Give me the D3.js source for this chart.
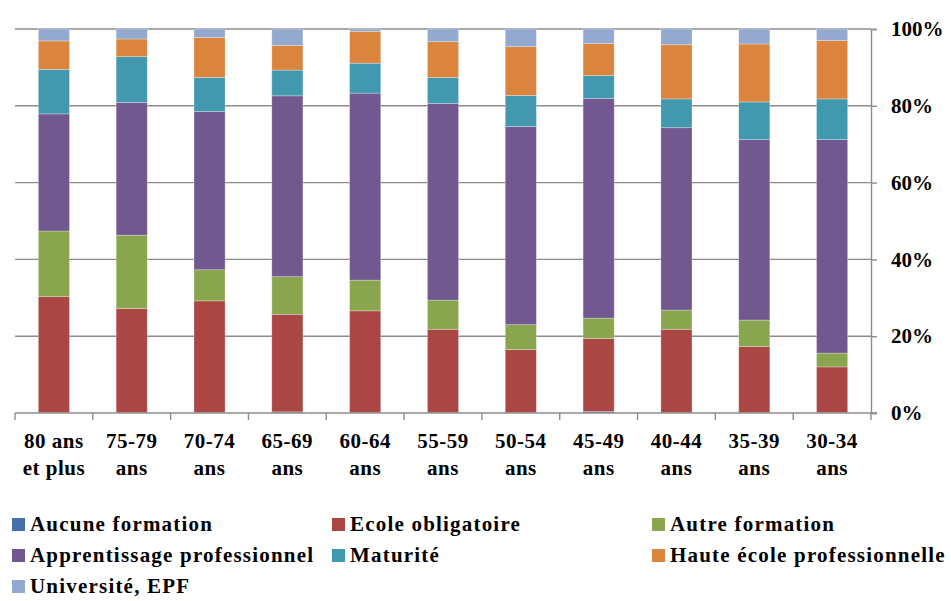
<!DOCTYPE html>
<html lang="fr">
<head>
<meta charset="utf-8">
<script src="https://cdn.jsdelivr.net/npm/d3@7"></script>
<style>
  html, body { margin: 0; padding: 0; background: #fff; }
  svg { display: block; }
  text { font-family: "Liberation Serif", "Times New Roman", serif; font-weight: bold; fill: #000; }
</style>
</head>
<body>
<svg id="chart" width="951" height="601"></svg>
<script>
// Age groups (each label is split over two lines)
const categories = [
  ["80 ans", "et plus"], ["75-79", "ans"], ["70-74", "ans"], ["65-69", "ans"],
  ["60-64", "ans"], ["55-59", "ans"], ["50-54", "ans"], ["45-49", "ans"],
  ["40-44", "ans"], ["35-39", "ans"], ["30-34", "ans"]
];

// Share of each education level per age group (%)
const aucuneFormation     = [0.1, 0.1, 0.1, 0.3, 0.1, 0.1, 0.1, 0.4, 0.1, 0.1, 0.1];
const ecoleObligatoire    = [30.2, 27.1, 29.1, 25.4, 26.5, 21.7, 16.4, 19.0, 21.7, 17.2, 11.9];
const autreFormation      = [17.1, 19.1, 8.1, 9.8, 8.0, 7.6, 6.5, 5.3, 5.0, 6.9, 3.6];
const apprentissage       = [30.5, 34.6, 41.2, 47.1, 48.7, 51.2, 51.6, 57.2, 47.5, 47.0, 55.6];
const maturite            = [11.6, 11.9, 8.9, 6.7, 7.8, 6.8, 8.1, 6.0, 7.5, 9.8, 10.6];
const hauteEcole          = [7.4, 4.6, 10.4, 6.4, 8.3, 9.3, 12.7, 8.3, 14.1, 15.1, 15.2];
const universite          = [3.1, 2.6, 2.2, 4.3, 0.6, 3.3, 4.6, 3.8, 4.1, 3.9, 3.0];

const seriesNames = [
  "Aucune formation", "Ecole obligatoire", "Autre formation",
  "Apprentissage professionnel", "Maturité", "Haute école professionnelle",
  "Université, EPF"
];
const seriesValues = [aucuneFormation, ecoleObligatoire, autreFormation,
  apprentissage, maturite, hauteEcole, universite];
const seriesColors = ["#4472A8", "#AA4643", "#89A54E", "#71588F", "#4198AF", "#DB843D", "#93A9CF"];

const yTicks = [0, 0.2, 0.4, 0.6, 0.8, 1];

// Build one row per age group for d3.stack
const rows = categories.map((c, i) => {
  const r = { key: c.join(" ") };
  seriesNames.forEach((s, k) => { r[s] = seriesValues[k][i]; });
  return r;
});

const svg = d3.select("#chart");
const plot = { left: 15, right: 871, top: 29, bottom: 413 };

const x = d3.scaleBand()
  .domain(rows.map(d => d.key))
  .range([plot.left, plot.right])
  .paddingInner(0.6)
  .paddingOuter(0.3);

const y = d3.scaleLinear().domain([0, 1]).range([plot.bottom, plot.top]);

const color = d3.scaleOrdinal().domain(seriesNames).range(seriesColors);

const stacked = d3.stack().keys(seriesNames).offset(d3.stackOffsetExpand)(rows);

// Horizontal gridlines
svg.append("g")
  .selectAll("line")
  .data(yTicks.filter(t => t > 0))
  .join("line")
  .attr("x1", plot.left)
  .attr("x2", plot.right)
  .attr("y1", d => y(d))
  .attr("y2", d => y(d))
  .attr("stroke", "#8c8c8c")
  .attr("stroke-width", 1.4);

// Stacked bars
svg.append("g")
  .selectAll("g")
  .data(stacked)
  .join("g")
  .attr("fill", d => color(d.key))
  .selectAll("rect")
  .data(d => d)
  .join("rect")
  .attr("x", d => x(d.data.key))
  .attr("width", x.bandwidth())
  .attr("y", d => y(d[1]))
  .attr("height", d => Math.max(0, y(d[0]) - y(d[1])))
  .attr("stroke", "rgba(255,255,255,0.35)")
  .attr("stroke-width", 0.8);

// Right-hand percentage axis
const yAxis = d3.axisRight(y)
  .tickValues(yTicks)
  .tickFormat(d3.format(".0%"))
  .tickSize(6)
  .tickPadding(14);

const gy = svg.append("g")
  .attr("transform", `translate(${plot.right},0)`)
  .call(yAxis);
gy.attr("font-family", null).attr("font-size", null);
gy.select(".domain").attr("stroke", "#8c8c8c").attr("stroke-width", 1.4);
gy.selectAll(".tick line").attr("stroke", "#8c8c8c").attr("stroke-width", 1.4);
gy.selectAll(".tick text")
  .attr("font-size", 21)
  .attr("fill", "#000");

// Bottom category axis: baseline with ticks at band boundaries
const gx = svg.append("g");
gx.append("line")
  .attr("x1", plot.left).attr("x2", plot.right + 6)
  .attr("y1", plot.bottom).attr("y2", plot.bottom)
  .attr("stroke", "#8c8c8c").attr("stroke-width", 1.4);

const boundaries = rows.map(d => x(d.key) - x.step() * x.paddingInner() / 2)
  .concat([plot.right]);
boundaries[0] = plot.left;
gx.selectAll("line.tk")
  .data(boundaries)
  .join("line")
  .attr("class", "tk")
  .attr("x1", d => d).attr("x2", d => d)
  .attr("y1", plot.bottom).attr("y2", plot.bottom + 7)
  .attr("stroke", "#8c8c8c").attr("stroke-width", 1.4);

// Two-line category labels
const lbl = gx.selectAll("text")
  .data(rows.map((d, i) => ({ key: d.key, lines: categories[i] })))
  .join("text")
  .attr("text-anchor", "middle")
  .attr("font-size", 21)
  .attr("letter-spacing", 0.5)
  .attr("transform", d => `translate(${x(d.key) + x.bandwidth() / 2},0)`);
lbl.selectAll("tspan")
  .data(d => d.lines)
  .join("tspan")
  .attr("x", 0)
  .attr("y", (d, i) => 447.5 + i * 27)
  .text(d => d);

// Legend: three columns
const legend = svg.append("g");
const item = legend.selectAll("g")
  .data(seriesNames)
  .join("g")
  .attr("transform", (d, i) => `translate(${12 + (i % 3) * 320},${518 + Math.floor(i / 3) * 31})`);
item.append("rect")
  .attr("width", 13).attr("height", 13)
  .attr("fill", d => color(d));
item.append("text")
  .attr("x", 18)
  .attr("y", 13)
  .attr("font-size", 21)
  .attr("letter-spacing", 1.2)
  .text(d => d);
</script>
</body>
</html>
